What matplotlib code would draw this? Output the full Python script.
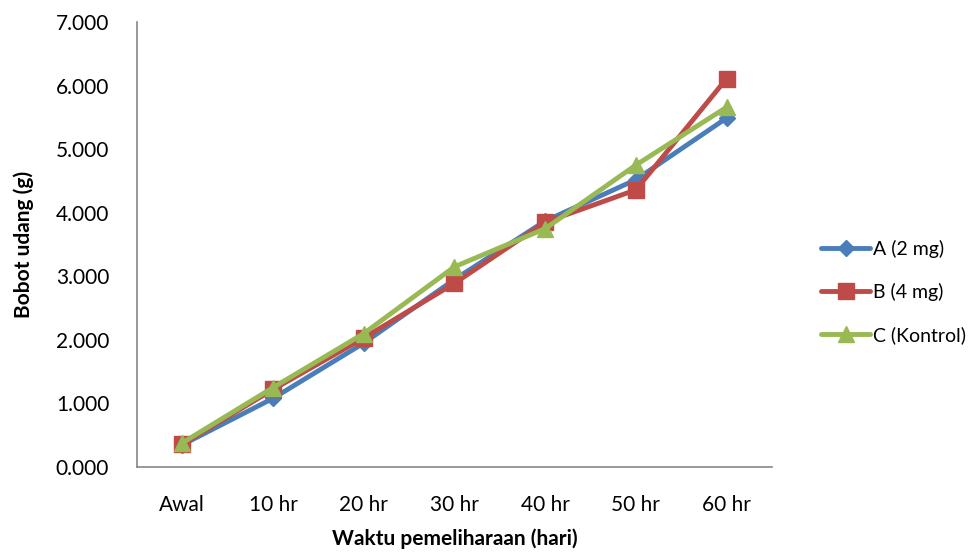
import matplotlib.pyplot as plt

# data
categories = ['Awal', '10 hr', '20 hr', '30 hr', '40 hr', '50 hr', '60 hr']
series_a = [0.35, 1.08, 1.95, 2.95, 3.87, 4.52, 5.49]
series_b = [0.36, 1.22, 2.03, 2.89, 3.85, 4.36, 6.11]
series_c = [0.38, 1.25, 2.10, 3.15, 3.75, 4.75, 5.66]
labels = ['A (2 mg)', 'B (4 mg)', 'C (Kontrol)']
yticks = [0, 1, 2, 3, 4, 5, 6, 7]

colors = ['#4a7ebb', '#be4b48', '#98b954']
markers = ['D', 's', '^']
msizes = [8, 12, 12]

plt.rcParams['font.family'] = ['Lato', 'DejaVu Sans']

fig = plt.figure(figsize=(9.78, 5.56), dpi=100)
ax = fig.add_axes([137 / 978, 89 / 556, 635 / 978, 445 / 556])

x = list(range(len(categories)))
for vals, lab, c, m, ms in zip([series_a, series_b, series_c], labels, colors, markers, msizes):
    ax.plot(x, vals, color=c, lw=3.5, marker=m, markersize=ms, label=lab,
            solid_capstyle='round', solid_joinstyle='round')

ax.set_xlim(-0.5, len(categories) - 0.5)
ax.set_ylim(0, 7)
ax.set_yticks(yticks)
ax.set_yticklabels([f'{v:.3f}' for v in yticks])
ax.set_xticks(x)
ax.set_xticklabels(categories)
ax.tick_params(axis='both', length=0, labelsize=15, pad=20)
ax.tick_params(axis='x', pad=20)

for s in ['top', 'right']:
    ax.spines[s].set_visible(False)
for s in ['left', 'bottom']:
    ax.spines[s].set_color('#868686')
    ax.spines[s].set_linewidth(1.2)

ax.set_xlabel('Waktu pemeliharaan (hari)', fontsize=15, fontweight='bold', labelpad=10)
ax.set_ylabel('Bobot udang (g)', fontsize=15, fontweight='bold', labelpad=16)

ax.legend(loc='center left', bbox_to_anchor=(804 / 978, (556 - 292) / 556),
          bbox_transform=fig.transFigure, frameon=False,
          fontsize=14, handlelength=2.5, handletextpad=0.15, labelspacing=1.3)

fig.savefig('out.png', dpi=100)
